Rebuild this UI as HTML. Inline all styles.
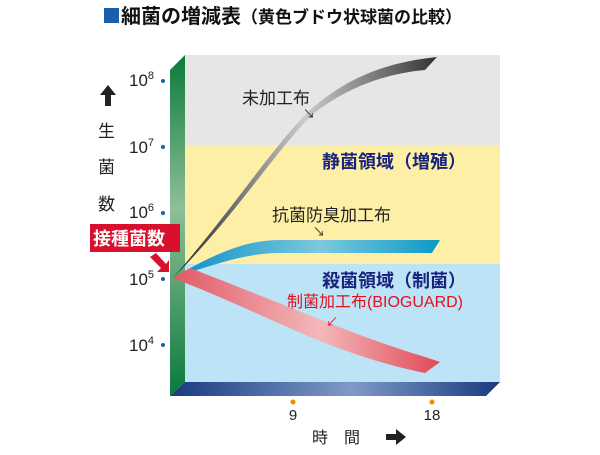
<!DOCTYPE html>
<html><head><meta charset="utf-8"><style>
body{margin:0;background:#fff;width:600px;height:450px;overflow:hidden;font-family:"Liberation Sans","Noto Sans CJK JP",sans-serif}
</style></head><body>
<svg width="600" height="450" xmlns="http://www.w3.org/2000/svg" style="font-family:'Liberation Sans','Noto Sans CJK JP',sans-serif">
<defs>
<linearGradient id="gw" x1="0" y1="0" x2="0" y2="1"><stop offset="0" stop-color="#0a7a3a"/><stop offset="0.45" stop-color="#8fbf98"/><stop offset="1" stop-color="#0a7a3a"/></linearGradient>
<linearGradient id="fl" x1="0" y1="0" x2="1" y2="0"><stop offset="0" stop-color="#1a3a80"/><stop offset="0.55" stop-color="#7f9ac8"/><stop offset="1" stop-color="#1a3a80"/></linearGradient>
<linearGradient id="gr" x1="0" y1="0" x2="1" y2="0"><stop offset="0" stop-color="#222"/><stop offset="0.5" stop-color="#ccc"/><stop offset="1" stop-color="#333"/></linearGradient>
<linearGradient id="bl" x1="0" y1="0" x2="1" y2="0"><stop offset="0" stop-color="#0a8ec8"/><stop offset="0.55" stop-color="#7cc8dd"/><stop offset="1" stop-color="#0a9ac8"/></linearGradient>
<linearGradient id="rd" x1="0" y1="0" x2="1" y2="0"><stop offset="0" stop-color="#e05a66"/><stop offset="0.55" stop-color="#f3b8bb"/><stop offset="1" stop-color="#e04a58"/></linearGradient>
</defs>
<rect x="104" y="8" width="15" height="15" fill="#1a5fa8"/>
<text x="121" y="23" font-size="20" font-weight="bold" fill="#111">細菌の増減表<tspan font-size="17">（黄色ブドウ状球菌の比較）</tspan></text>
<rect x="185" y="55" width="315" height="90" fill="#e6e6e6"/>
<rect x="185" y="145" width="315" height="119" fill="#fdf0a6"/>
<rect x="185" y="264" width="315" height="118" fill="#bde3f6"/>
<polygon points="170,70 185,55 185,382 170,396" fill="url(#gw)"/>
<polygon points="170,396 185,382 500,382 486,396" fill="url(#fl)"/>
<path d="M173,278 C240,200 270,150 310,110 C350,75 390,62 437,57 L425,70 C390,73 350,85 313,114 C272,155 240,210 173,278 Z" fill="url(#gr)"/>
<path d="M173,278 C220,250 250,240 280,240 L440,240 L432,253 L280,253 C250,253 220,262 173,278 Z" fill="url(#bl)"/>
<path d="M173,278 L190,268 C260,295 320,320 360,335 C400,350 420,355 440,362 L425,373 C400,368 370,360 330,345 C280,325 230,300 173,278 Z" fill="url(#rd)"/>
<g font-size="17" fill="#222">
<text x="129" y="86">10<tspan font-size="11" dy="-7">8</tspan></text>
<text x="129" y="153">10<tspan font-size="11" dy="-7">7</tspan></text>
<text x="129" y="218">10<tspan font-size="11" dy="-7">6</tspan></text>
<text x="129" y="285">10<tspan font-size="11" dy="-7">5</tspan></text>
<text x="129" y="351">10<tspan font-size="11" dy="-7">4</tspan></text>
</g>
<g fill="#1a5fa8"><circle cx="163" cy="81" r="2"/><circle cx="163" cy="147" r="2"/><circle cx="163" cy="213" r="2"/><circle cx="163" cy="279" r="2"/><circle cx="163" cy="345" r="2"/></g>
<polygon points="108,85 100,95 105,95 105,106 111,106 111,95 116,95" fill="#222"/>
<g font-size="17" fill="#222"><text x="98" y="137">生</text><text x="98" y="173">菌</text><text x="98" y="210">数</text></g>
<rect x="90" y="224" width="90" height="28" fill="#d8102e"/>
<text x="93" y="245" font-size="18" font-weight="bold" fill="#fff">接種菌数</text>
<polygon points="150,257 156,253 166,264 169,260 169,272 157,272 161,268" fill="#d8102e"/>
<g font-size="17" fill="#222">
<text x="242" y="104">未加工布</text>
<text x="272" y="221">抗菌防臭加工布</text>
</g>
<text x="303" y="118" font-size="12" fill="#222">↘</text>
<text x="313" y="236" font-size="12" fill="#222">↘</text>
<g font-size="18" font-weight="bold" fill="#1a237e">
<text x="322" y="168">静菌領域（増殖）</text>
<text x="322" y="287">殺菌領域（制菌）</text>
</g>
<text x="287" y="307" font-size="16" fill="#e3101e">制菌加工布(BIOGUARD)</text>
<text x="326" y="326" font-size="12" fill="#e3101e">↙</text>
<circle cx="293" cy="402" r="2.5" fill="#f08a00"/><circle cx="432" cy="402" r="2.5" fill="#f08a00"/>
<text x="293" y="420" font-size="15" fill="#222" text-anchor="middle">9</text>
<text x="432" y="420" font-size="15" fill="#222" text-anchor="middle">18</text>
<text x="312" y="443" font-size="16" fill="#222">時　間</text>
<polygon points="386,434 396,434 396,429 406,437 396,445 396,440 386,440" fill="#222"/>
</svg>
</body></html>
